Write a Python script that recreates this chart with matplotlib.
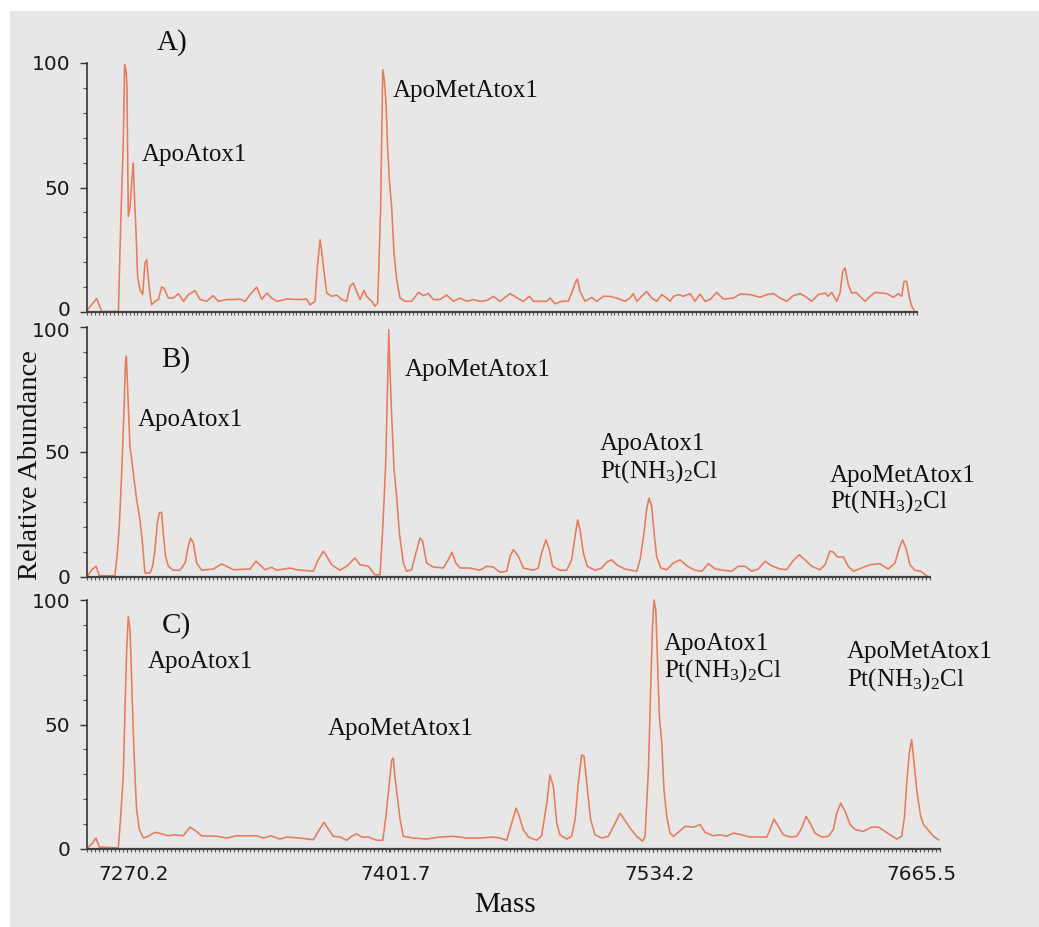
import matplotlib
matplotlib.use('Agg')
import matplotlib.pyplot as plt
import matplotlib.transforms as mtransforms
from matplotlib.patches import Rectangle
from matplotlib.ticker import MultipleLocator, FixedLocator, NullFormatter

plt.rcParams['font.family'] = ['Liberation Serif', 'DejaVu Serif']
plt.rcParams['mathtext.fontset'] = 'custom'
plt.rcParams['mathtext.rm'] = 'Liberation Serif'
plt.rcParams['mathtext.it'] = 'Liberation Serif:italic'

# Panel A spectrum (mass, relative abundance)
a_mass = [7250.2, 7255.0, 7257.6, 7266.2, 7267.4, 7268.7, 7269.4, 7270.1, 7270.6, 7271.3,
          7272.2, 7273.4, 7273.9, 7274.4, 7275.3, 7276.1, 7277.3, 7278.7, 7279.9, 7280.8,
          7282.0, 7283.3, 7285.1, 7286.8, 7288.5, 7289.7, 7291.9, 7294.5, 7297.1, 7299.7,
          7302.3, 7305.7, 7308.3, 7311.7, 7315.1, 7317.7, 7322.0, 7325.5, 7328.9, 7331.5,
          7334.1, 7337.5, 7340.1, 7342.7, 7345.2, 7347.8, 7353.0, 7359.8, 7363.3, 7365.0,
          7367.6, 7368.8, 7370.2, 7371.0, 7371.9, 7373.6, 7376.2, 7378.8, 7381.3, 7383.9,
          7385.6, 7387.3, 7388.7, 7390.8, 7392.8, 7394.2, 7396.8, 7398.5, 7399.9, 7401.4,
          7402.5, 7403.3, 7404.2, 7405.0, 7405.9, 7407.1, 7408.3, 7409.7, 7411.4, 7414.0,
          7417.4, 7420.9, 7423.4, 7426.0, 7428.6, 7432.0, 7435.5, 7438.9, 7442.4, 7445.8,
          7449.2, 7452.7, 7456.1, 7459.5, 7463.0, 7468.1, 7473.3, 7475.0, 7478.1, 7480.2,
          7487.0, 7488.8, 7491.3, 7494.8, 7498.2, 7499.9, 7501.7, 7502.9, 7504.2, 7506.8,
          7510.3, 7512.8, 7516.3, 7519.7, 7523.1, 7527.4, 7530.0, 7531.7, 7533.5, 7536.0,
          7538.6, 7541.2, 7543.8, 7546.4, 7548.9, 7550.7, 7552.4, 7555.0, 7557.5, 7561.0,
          7563.5, 7566.1, 7568.7, 7571.3, 7574.7, 7578.2, 7583.3, 7586.8, 7591.9, 7597.1,
          7600.5, 7604.0, 7607.4, 7610.8, 7614.3, 7617.7, 7620.3, 7623.7, 7627.1, 7630.6,
          7632.3, 7634.0, 7636.6, 7638.3, 7639.7, 7640.9, 7642.6, 7644.3, 7646.6, 7648.6,
          7651.2, 7653.8, 7656.4, 7662.4, 7665.8, 7668.4, 7670.1, 7671.3, 7672.7, 7674.1,
          7675.3, 7676.5]
a_abund = [0.9, 5.4, 0.2, 0.2, 35.7, 67.9, 99.3, 97.3, 90.6, 38.4,
           42.4, 55.8, 59.8, 47.8, 31.7, 14.3, 9.0, 7.0, 19.7, 21.0,
           10.3, 2.9, 4.3, 5.0, 10.0, 9.6, 5.6, 5.6, 7.4, 4.3,
           7.0, 8.6, 5.0, 4.3, 6.6, 4.3, 5.0, 5.0, 5.2, 4.3,
           7.0, 10.0, 5.0, 7.6, 5.6, 4.3, 5.2, 5.0, 5.2, 2.9,
           4.3, 18.3, 29.0, 24.4, 18.3, 7.6, 6.3, 6.8, 5.0, 4.3,
           10.3, 11.6, 9.0, 5.0, 8.7, 6.3, 4.3, 2.3, 3.6, 41.1,
           97.3, 93.3, 83.9, 66.5, 53.1, 42.4, 23.7, 13.0, 5.6, 4.3,
           4.3, 7.9, 6.6, 7.4, 5.0, 5.0, 6.8, 4.3, 5.6, 4.3,
           5.0, 4.3, 4.6, 6.3, 4.3, 7.4, 5.0, 4.3, 6.3, 4.3,
           4.3, 5.6, 3.3, 4.3, 4.3, 7.6, 11.6, 13.3, 8.3, 4.3,
           5.9, 4.3, 6.3, 6.3, 5.6, 4.3, 5.6, 7.4, 4.3, 6.3,
           8.2, 5.6, 4.3, 7.0, 5.6, 4.3, 6.3, 7.0, 6.3, 7.4,
           4.3, 7.2, 4.3, 5.0, 7.9, 5.2, 5.6, 7.2, 7.0, 5.9,
           7.0, 7.4, 5.6, 4.3, 6.6, 7.4, 6.3, 4.3, 7.0, 7.6,
           6.3, 7.9, 4.3, 7.6, 16.3, 17.7, 11.0, 7.6, 7.9, 6.3,
           4.3, 6.3, 7.9, 7.4, 5.9, 7.4, 6.3, 12.3, 12.3, 5.6,
           2.3, 0.7]

# Panel B spectrum
b_mass = [7250.2, 7252.4, 7254.6, 7256.3, 7264.2, 7265.4, 7266.4, 7267.6, 7268.8, 7269.5,
          7270.0, 7270.6, 7271.8, 7273.5, 7275.2, 7276.9, 7278.3, 7279.4, 7282.0, 7283.3,
          7284.5, 7285.7, 7286.7, 7287.9, 7288.7, 7289.9, 7291.3, 7293.8, 7297.2, 7299.8,
          7301.4, 7302.6, 7304.0, 7305.7, 7308.2, 7314.1, 7318.4, 7320.9, 7324.3, 7332.8,
          7335.8, 7337.8, 7340.4, 7343.7, 7346.3, 7353.1, 7356.4, 7364.9, 7367.4, 7370.0,
          7371.7, 7374.2, 7378.4, 7381.8, 7386.1, 7388.6, 7392.8, 7396.2, 7398.8, 7400.1,
          7401.6, 7402.5, 7403.2, 7403.8, 7404.7, 7405.9, 7407.2, 7408.6, 7410.6, 7412.3,
          7414.8, 7417.0, 7419.1, 7420.4, 7422.4, 7425.8, 7430.9, 7433.4, 7435.3, 7437.3,
          7439.4, 7444.4, 7449.5, 7452.9, 7456.3, 7459.7, 7463.1, 7464.8, 7466.4, 7469.0,
          7471.5, 7476.6, 7479.1, 7480.8, 7483.0, 7484.7, 7486.4, 7490.1, 7493.5, 7496.1,
          7497.8, 7499.1, 7500.3, 7502.0, 7504.0, 7507.9, 7511.3, 7513.8, 7516.4, 7518.9,
          7523.1, 7526.5, 7529.1, 7530.8, 7532.8, 7534.1, 7535.3, 7536.7, 7537.9, 7539.2,
          7541.3, 7544.3, 7547.7, 7551.1, 7554.4, 7558.7, 7562.1, 7565.5, 7569.0, 7573.1,
          7577.3, 7580.7, 7584.1, 7587.4, 7590.8, 7594.2, 7597.6, 7601.8, 7605.2, 7608.3,
          7611.6, 7614.5, 7617.9, 7622.1, 7624.7, 7627.2, 7628.9, 7630.9, 7634.0, 7636.5,
          7639.1, 7643.3, 7647.5, 7652.6, 7656.8, 7660.2, 7662.4, 7664.1, 7665.8, 7667.8,
          7670.4, 7673.3, 7676.6]
b_abund = [0.3, 2.9, 4.3, 0.5, 0.5, 9.6, 20.3, 41.6, 66.9, 85.6,
           88.3, 76.3, 52.3, 41.6, 30.9, 22.9, 12.3, 1.6, 1.6, 4.3,
           10.9, 21.6, 25.6, 25.9, 17.6, 8.3, 4.3, 2.7, 2.7, 5.6,
           12.3, 15.6, 13.6, 5.6, 2.7, 3.2, 5.2, 4.3, 2.9, 3.2,
           6.3, 4.9, 2.9, 3.9, 2.7, 3.6, 2.9, 2.3, 6.9, 10.3,
           8.3, 4.9, 2.7, 4.3, 7.6, 4.9, 4.3, 0.9, 0.9, 18.9,
           44.3, 73.6, 98.9, 82.9, 64.3, 42.9, 32.3, 17.6, 5.6, 2.3,
           2.9, 9.6, 15.6, 14.3, 5.6, 4.0, 3.6, 6.9, 9.9, 5.6,
           3.6, 3.6, 2.7, 4.3, 4.0, 1.9, 2.3, 8.3, 10.9, 8.3,
           3.6, 2.7, 3.6, 9.6, 14.9, 10.9, 4.3, 2.7, 2.7, 6.9,
           16.3, 22.9, 18.9, 9.6, 4.3, 2.7, 3.6, 5.9, 6.9, 4.9,
           3.2, 2.7, 2.3, 6.9, 17.6, 26.9, 31.6, 28.3, 17.6, 8.3,
           3.6, 2.9, 5.6, 6.9, 4.5, 2.7, 2.3, 5.3, 3.2, 2.7,
           2.3, 4.3, 4.3, 2.3, 3.2, 6.3, 4.5, 3.2, 2.9, 6.3,
           8.9, 6.9, 4.3, 2.9, 4.9, 10.3, 10.0, 8.0, 8.0, 4.3,
           2.3, 3.6, 4.9, 5.3, 3.2, 5.6, 11.6, 14.9, 11.6, 4.9,
           2.7, 2.3, 0.3]

# Panel C spectrum
c_mass = [7250.2, 7252.8, 7254.5, 7256.2, 7265.7, 7266.9, 7268.2, 7269.1, 7269.9, 7270.7,
          7271.6, 7272.4, 7273.2, 7274.1, 7274.9, 7276.3, 7278.3, 7280.8, 7284.1, 7287.5,
          7290.8, 7294.2, 7298.3, 7301.7, 7304.2, 7307.5, 7315.1, 7320.1, 7325.1, 7335.1,
          7338.5, 7342.2, 7346.8, 7350.2, 7356.9, 7363.6, 7366.6, 7368.9, 7371.1, 7373.6,
          7377.0, 7380.3, 7382.8, 7385.3, 7387.8, 7391.2, 7395.3, 7398.4, 7400.0, 7401.7,
          7402.9, 7403.7, 7404.5, 7405.7, 7407.1, 7408.7, 7413.8, 7420.4, 7427.1, 7433.8,
          7440.5, 7447.2, 7453.9, 7457.2, 7460.6, 7463.1, 7465.3, 7466.9, 7468.9, 7471.5,
          7475.6, 7478.1, 7480.7, 7482.3, 7484.0, 7485.7, 7487.3, 7490.7, 7493.2, 7494.9,
          7496.5, 7498.2, 7499.4, 7501.1, 7502.7, 7504.9, 7508.3, 7511.6, 7515.0, 7517.5,
          7519.5, 7522.5, 7525.8, 7528.8, 7530.0, 7531.7, 7532.8, 7533.8, 7534.5, 7535.4,
          7536.2, 7537.2, 7538.4, 7539.5, 7540.9, 7542.5, 7544.2, 7546.7, 7550.1, 7554.3,
          7557.6, 7560.1, 7564.3, 7567.6, 7571.0, 7574.3, 7578.5, 7582.7, 7591.1, 7592.7,
          7594.7, 7596.9, 7599.4, 7602.8, 7606.1, 7608.6, 7610.8, 7612.8, 7615.3, 7618.7,
          7622.0, 7624.5, 7626.2, 7628.2, 7630.4, 7632.9, 7635.4, 7639.6, 7643.7, 7647.1,
          7650.4, 7652.9, 7656.3, 7658.8, 7660.2, 7661.3, 7662.6, 7663.8, 7665.0, 7666.3,
          7668.3, 7669.7, 7672.2, 7674.7, 7677.2]
c_abund = [0.4, 2.4, 4.4, 0.8, 0.4, 13.1, 29.1, 57.2, 79.9, 93.3,
           88.0, 67.9, 47.9, 29.1, 15.8, 7.8, 4.4, 5.1, 6.7, 6.1,
           5.3, 5.7, 5.3, 8.8, 7.5, 5.3, 5.1, 4.4, 5.3, 5.3,
           4.4, 5.3, 4.0, 4.8, 4.4, 3.7, 7.8, 10.7, 8.0, 5.1,
           4.8, 3.5, 5.1, 6.1, 4.8, 4.8, 3.5, 3.5, 13.1, 26.5,
           35.8, 36.5, 29.1, 21.1, 11.8, 5.1, 4.4, 4.0, 4.8, 5.1,
           4.4, 4.4, 4.8, 4.4, 3.5, 10.4, 16.4, 13.1, 7.8, 4.8,
           3.5, 5.3, 18.4, 29.8, 25.1, 10.4, 5.7, 4.0, 5.1, 11.8,
           26.5, 37.8, 37.2, 23.8, 11.8, 5.7, 4.4, 5.1, 10.4, 14.4,
           12.0, 8.4, 5.1, 3.1, 5.1, 31.8, 63.9, 90.6, 100.0, 96.0,
           77.3, 53.2, 42.5, 23.8, 13.1, 6.4, 5.1, 6.7, 9.1, 8.8,
           9.8, 6.7, 5.3, 5.7, 5.1, 6.4, 5.7, 4.8, 4.8, 7.8,
           12.0, 9.1, 5.7, 4.8, 5.1, 8.4, 13.1, 10.4, 6.4, 4.8,
           5.1, 7.8, 14.4, 18.4, 15.1, 9.8, 7.8, 7.1, 8.8, 8.8,
           7.1, 5.7, 4.0, 5.1, 13.1, 26.5, 38.5, 43.9, 34.5, 23.8,
           13.1, 9.8, 7.5, 5.1, 3.7]

tick_masses = [7270.2, 7401.7, 7534.2, 7665.5]
tick_labels = ['7270.2', '7401.7', '7534.2', '7665.5']
panel_names = ['A)', 'B)', 'C)']

W, H = 1039, 927
fig = plt.figure(figsize=(W / 100, H / 100), dpi=100)
fig.patch.set_facecolor('white')
fig.patches.append(Rectangle((10 / W, 0), 1 - 10 / W, 1 - 11 / H, transform=fig.transFigure,
                             facecolor='#e7e7e7', edgecolor='none', zorder=-5))


def fx(px):
    return px / W


def fy(py):
    return 1 - py / H


def nudge(label, dx, dy):
    # shift a tick label by a few pixels
    label.set_transform(label.get_transform() +
                        mtransforms.ScaledTranslation(dx / 100, dy / 100, fig.dpi_scale_trans))


line_color = '#e97a5a'
# (left, right, y of 100, y of 0) in pixels for each panel
boxes = [(87, 917, 63, 312), (87, 930, 327, 577), (87, 940, 600, 849)]
spectra = [(a_mass, a_abund), (b_mass, b_abund), (c_mass, c_abund)]
axes = []
for (l, r, t, b), (m, y) in zip(boxes, spectra):
    ax = fig.add_axes([fx(l), fy(b), (r - l) / W, (b - t) / H])
    ax.set_facecolor('none')
    ax.plot(m, y, color=line_color, lw=1.15, clip_on=False)
    ax.set_xlim(7250, 7678)
    ax.set_ylim(0, 100)
    for s in ['top', 'right']:
        ax.spines[s].set_visible(False)
    ax.spines['left'].set_color('#333333')
    ax.spines['left'].set_linewidth(1.2)
    ax.spines['bottom'].set_color('#444444')
    ax.spines['bottom'].set_linewidth(1.6)
    ax.set_yticks([0, 50, 100])
    ax.yaxis.set_minor_locator(MultipleLocator(10))
    ax.tick_params(axis='y', which='major', length=5, width=1, color='#333333',
                   pad=7, labelsize=14.5, labelcolor='#1a1a1a')
    ax.tick_params(axis='y', which='minor', length=3, width=0.8, color='#555555')
    for lab in ax.get_yticklabels():
        lab.set_family('DejaVu Sans')
    ax.xaxis.set_minor_locator(MultipleLocator(2))
    ax.tick_params(axis='x', which='minor', length=2.5, width=0.8, color='#555555')
    axes.append(ax)

for ax in axes[:2]:
    ax.set_xticks([])
    ax.xaxis.set_minor_locator(MultipleLocator(2))
    ax.xaxis.set_minor_formatter(NullFormatter())

# keep the stacked 0 / 100 labels apart, as in the original
nudge(axes[0].get_yticklabels()[0], 0, 4)
nudge(axes[1].get_yticklabels()[2], 0, -3)

axc = axes[2]
axc.xaxis.set_major_locator(FixedLocator(tick_masses))
axc.set_xticklabels(tick_labels)
axc.tick_params(axis='x', which='major', length=2.5, width=0.8, color='#555555',
                pad=9, labelsize=14.5, labelcolor='#1a1a1a')
for lab in axc.get_xticklabels():
    lab.set_family('DejaVu Sans')
    nudge(lab, 6, 0)

txt = dict(color='#111111', ha='left', va='baseline')
big = 21
small = 18
pt = 'Pt(NH$_3$)$_2$Cl'

# panel letters
fig.text(fx(157), fy(50), panel_names[0], fontsize=big, **txt)
fig.text(fx(161), fy(367), panel_names[1], fontsize=big, **txt)
fig.text(fx(162), fy(633), panel_names[2], fontsize=big, **txt)

# Panel A labels
fig.text(fx(142), fy(161), 'ApoAtox1', fontsize=small, **txt)
fig.text(fx(393), fy(97), 'ApoMetAtox1', fontsize=small, **txt)

# Panel B labels
fig.text(fx(138), fy(426), 'ApoAtox1', fontsize=small, **txt)
fig.text(fx(405), fy(376), 'ApoMetAtox1', fontsize=small, **txt)
fig.text(fx(600), fy(450), 'ApoAtox1', fontsize=small, **txt)
fig.text(fx(600), fy(478), pt, fontsize=small, **txt)
fig.text(fx(830), fy(482), 'ApoMetAtox1', fontsize=small, **txt)
fig.text(fx(830), fy(508), pt, fontsize=small, **txt)

# Panel C labels
fig.text(fx(148), fy(668), 'ApoAtox1', fontsize=small, **txt)
fig.text(fx(328), fy(735), 'ApoMetAtox1', fontsize=small, **txt)
fig.text(fx(664), fy(650), 'ApoAtox1', fontsize=small, **txt)
fig.text(fx(664), fy(677), pt, fontsize=small, **txt)
fig.text(fx(847), fy(658), 'ApoMetAtox1', fontsize=small, **txt)
fig.text(fx(847), fy(686), pt, fontsize=small, **txt)

fig.text(fx(505), fy(905), 'Mass', fontsize=21, color='#111111', ha='center', va='center')
fig.text(fx(31), fy(465), 'Relative Abundance', fontsize=20.5, color='#111111',
         ha='center', va='center', rotation=90)

fig.savefig('out.png', dpi=100, facecolor=fig.get_facecolor())
